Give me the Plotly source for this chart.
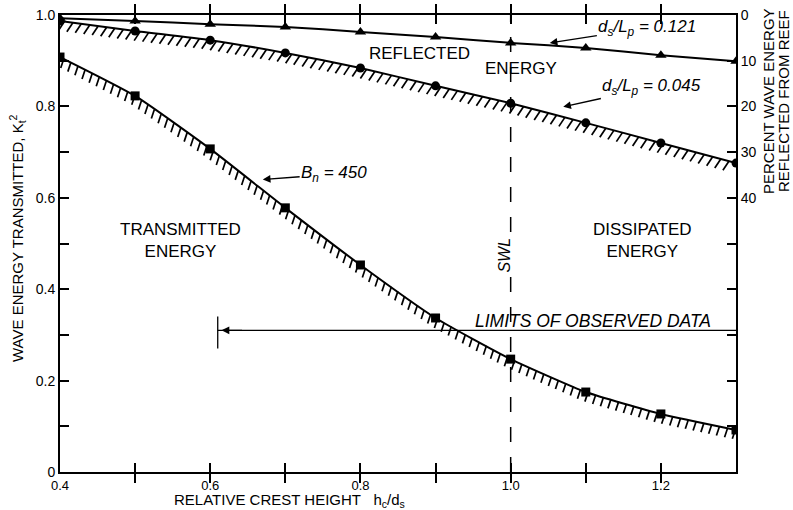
import numpy as np
import plotly.graph_objects as go

# ---------------- data ----------------
x_ratio = [0.4, 0.5, 0.6, 0.7, 0.8, 0.9, 1.0, 1.1, 1.2, 1.3]
transmitted_bn450 = [0.908, 0.823, 0.707, 0.578, 0.453, 0.337, 0.247, 0.175, 0.127, 0.092]
reflected_0045 = [0.987, 0.965, 0.945, 0.917, 0.884, 0.845, 0.807, 0.764, 0.720, 0.676]
reflected_0121 = [0.993, 0.987, 0.980, 0.974, 0.963, 0.952, 0.939, 0.928, 0.912, 0.899]

x_tickvals = [0.4, 0.5, 0.6, 0.7, 0.8, 0.9, 1.0, 1.1, 1.2, 1.3]
x_ticktext = ["0.4", "", "0.6", "", "0.8", "", "1.0", "", "1.2", ""]
y_tickvals = [0.0, 0.1, 0.2, 0.3, 0.4, 0.5, 0.6, 0.7, 0.8, 0.9, 1.0]
y_ticktext = ["0", "", "0.2", "", "0.4", "", "0.6", "", "0.8", "", "1.0"]
pct_tickvals = [0, 10, 20, 30, 40, 50, 60, 70, 80, 90]
pct_ticktext = ["0", "10", "20", "30", "40", "", "", "", "", ""]

SWL_X = 1.0
LIMIT_X = 0.61
LIMIT_Y = 0.31

# ---------------- layout geometry ----------------
W, H = 793, 510
ML, MR, MT, MB = 60, 57, 15, 38
XR = [0.4, 1.3]
YR = [0.0, 1.0]
pw = W - ML - MR
ph = H - MT - MB
sx = pw / (XR[1] - XR[0])
sy = ph / (YR[1] - YR[0])


def hatch(xs, ys, spacing, dxp, dyp):
    """short strokes hanging below a curve, computed from the curve itself"""
    xf = np.linspace(xs[0], xs[-1], 2000)
    yf = np.interp(xf, xs, ys)
    px = xf * sx
    py = yf * sy
    seg = np.hypot(np.diff(px), np.diff(py))
    s = np.concatenate([[0], np.cumsum(seg)])
    targets = np.arange(spacing * 0.5, s[-1], spacing)
    hx, hy = [], []
    for t in targets:
        i = np.searchsorted(s, t)
        i = min(i, len(xf) - 1)
        x0, y0 = xf[i], yf[i]
        hx += [x0, x0 + dxp / sx, None]
        hy += [y0, y0 - dyp / sy, None]
    return hx, hy


fig = go.Figure()

hx, hy = hatch(x_ratio, reflected_0045, 8.5, -6, 9)
fig.add_trace(go.Scatter(x=hx, y=hy, mode="lines", line=dict(color="black", width=1.7),
                         hoverinfo="skip", showlegend=False))
hx, hy = hatch(x_ratio, transmitted_bn450, 8, -3, 9)
fig.add_trace(go.Scatter(x=hx, y=hy, mode="lines", line=dict(color="black", width=1.7),
                         hoverinfo="skip", showlegend=False))

line = dict(color="black", width=2, shape="spline", smoothing=0.5)
fig.add_trace(go.Scatter(x=x_ratio, y=reflected_0121, mode="lines+markers", line=line,
                         marker=dict(symbol="triangle-up", size=10, color="black"), showlegend=False))
fig.add_trace(go.Scatter(x=x_ratio, y=reflected_0045, mode="lines+markers", line=line,
                         marker=dict(symbol="circle", size=9, color="black"), showlegend=False))
fig.add_trace(go.Scatter(x=x_ratio, y=transmitted_bn450, mode="lines+markers", line=line,
                         marker=dict(symbol="square", size=9, color="black"), showlegend=False))

# limits of observed data
fig.add_trace(go.Scatter(x=[LIMIT_X, XR[1]], y=[LIMIT_Y, LIMIT_Y], mode="lines",
                         line=dict(color="black", width=1.3), showlegend=False, hoverinfo="skip"))
# invisible trace for right axis
fig.add_trace(go.Scatter(x=[XR[0]], y=[0], yaxis="y2", mode="markers",
                         marker=dict(opacity=0), showlegend=False, hoverinfo="skip"))

fig.add_shape(type="line", x0=LIMIT_X, x1=LIMIT_X, y0=LIMIT_Y - 0.04, y1=LIMIT_Y + 0.03,
              line=dict(color="black", width=1.3))
fig.add_shape(type="line", x0=SWL_X, x1=SWL_X, y0=0, y1=1, layer="below",
              line=dict(color="black", width=1.5, dash="longdash"))

F = "Liberation Sans, Arial, sans-serif"
ann = []


def txt(x, y, t, size=17, **kw):
    d = dict(x=x, y=y, text=t, showarrow=False, font=dict(family=F, size=size, color="black"),
             xanchor="center", yanchor="middle")
    d.update(kw)
    ann.append(d)


txt(0.8785, 0.915, "REFLECTED")
txt(1.0131, 0.884, "ENERGY")
txt(0.561, 0.506, "TRANSMITTED<br>ENERGY")
txt(1.175, 0.506, "DISSIPATED<br>ENERGY")
txt(0.992, 0.475, "<i>SWL</i>", size=16, textangle=-90, bgcolor="white")
txt(1.109, 0.330, "<i>LIMITS OF OBSERVED DATA</i>", size=17.5)


def arrow_label(tx, ty, ax, ay, t):
    ann.append(dict(x=tx, y=ty, ax=ax, ay=ay, axref="x", ayref="y", text=t, showarrow=True,
                    arrowhead=2, arrowsize=1.1, arrowwidth=1.4, arrowcolor="black",
                    font=dict(family=F, size=17, color="black")))


arrow_label(0.670, 0.640, 0.765, 0.652, "<i>B<sub>n</sub> = 450</i>")
arrow_label(1.052, 0.939, 1.182, 0.972, "<i>d<sub>s</sub>/L<sub>p</sub> = 0.121</i>")
arrow_label(1.070, 0.799, 1.188, 0.842, "<i>d<sub>s</sub>/L<sub>p</sub> = 0.045</i>")

ann.append(dict(x=LIMIT_X + 0.005, y=LIMIT_Y, ax=22, ay=0, text="", showarrow=True,
                arrowhead=2, arrowsize=1.2, arrowwidth=1.3, arrowcolor="black"))


def paper_txt(px_, py_, t, angle=0, size=15):
    ann.append(dict(xref="paper", yref="paper", x=(px_ - ML) / pw, y=(H - MB - py_) / ph,
                    xanchor="center", yanchor="middle", showarrow=False, textangle=angle,
                    text=t, font=dict(family=F, size=size, color="black")))


paper_txt(768, 101, "PERCENT WAVE ENERGY", -90)
paper_txt(783, 101, "REFLECTED FROM REEF", -90)
paper_txt(18, 238, "WAVE ENERGY TRANSMITTED, K<sub>t</sub><sup>2</sup>", -90)
paper_txt(289, 500, "RELATIVE CREST HEIGHT&nbsp;&nbsp; h<sub>c</sub>/d<sub>s</sub>", size=15)

common = dict(ticks="inside", ticklen=9, tickwidth=1.5, tickcolor="black", showline=True,
              linecolor="black", linewidth=2, showgrid=False, zeroline=False, automargin=False,
              tickfont=dict(family=F, size=14, color="black"))

fig.update_layout(
    width=W, height=H,
    margin=dict(l=ML, r=MR, t=MT, b=MB, autoexpand=False),
    paper_bgcolor="white", plot_bgcolor="white",
    font=dict(family=F, size=14, color="black"),
    annotations=ann,
    xaxis=dict(range=XR, tickvals=x_tickvals, ticktext=x_ticktext, mirror="allticks", **common),
    yaxis=dict(range=YR, tickvals=y_tickvals, ticktext=y_ticktext, **common),
    yaxis2=dict(range=[100, 0], overlaying="y", side="right", tickvals=pct_tickvals,
                ticktext=pct_ticktext, **common),
)
fig.update_xaxes(tickfont=dict(family=F, size=13, color="black"))

fig.write_html("out.html", post_script="document.body.style.margin='0';",
               config={"displayModeBar": False})
